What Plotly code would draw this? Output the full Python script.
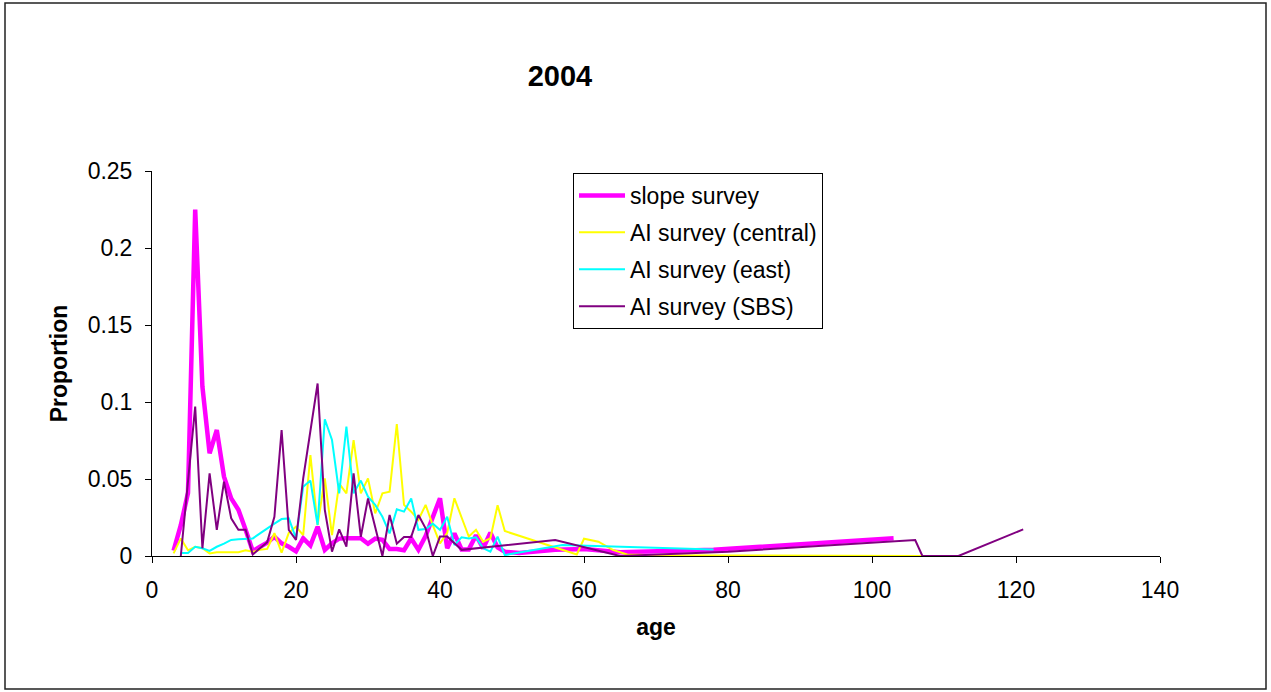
import plotly.graph_objects as go

# ---- data ----
slope_age = [3, 4, 5, 6, 7, 8, 9, 10, 11, 12, 13, 14, 15, 16, 17, 18, 19, 20,
             21, 22, 23, 24, 25, 26, 27, 28, 29, 30, 31, 32, 33, 34, 35, 36, 37,
             38, 39, 40, 41, 42, 43, 44, 45, 46, 47, 48, 49, 50, 51, 56, 60, 65,
             78, 103]
slope_val = [0.0035, 0.020, 0.041, 0.225, 0.110, 0.0667, 0.0818, 0.0515, 0.0374,
             0.030, 0.017, 0.0031, 0.006, 0.0087, 0.0125, 0.0082, 0.0060, 0.0030,
             0.0115, 0.0068, 0.019, 0.0040, 0.0083, 0.0113, 0.0115, 0.0115, 0.0115,
             0.0080, 0.0113, 0.0105, 0.0045, 0.0045, 0.0037, 0.0113, 0.0040, 0.0130,
             0.0250, 0.0375, 0.0050, 0.0147, 0.0043, 0.0043, 0.0135, 0.0050, 0.0151,
             0.0056, 0.0028, 0.0022, 0.0020, 0.0040, 0.0045, 0.0025, 0.0040, 0.0115]

central_age = [3, 4, 5, 6, 7, 8, 9, 10, 11, 12, 13, 14, 15, 16, 17, 18, 19, 20,
               21, 22, 23, 24, 25, 26, 27, 28, 29, 30, 31, 32, 33, 34, 35, 36, 37,
               38, 39, 40, 41, 42, 43, 44, 45, 46, 47, 48, 49, 59, 60, 62, 64, 66,
               70, 107]
central_val = [0.0017, 0.0114, 0.0037, 0.0060, 0.0050, 0.0017, 0.0024, 0.0024,
               0.0024, 0.0024, 0.0037, 0.0027, 0.0040, 0.0046, 0.0148, 0.0022,
               0.0150, 0.0190, 0.0136, 0.0656, 0.0200, 0.0504, 0.0136, 0.0470,
               0.0407, 0.0753, 0.0407, 0.0504, 0.0277, 0.0407, 0.0418, 0.0857,
               0.0332, 0.0288, 0.0234, 0.0332, 0.0200, 0.0082, 0.0150, 0.0375,
               0.0250, 0.0126, 0.0170, 0.0093, 0.0115, 0.0330, 0.0162, 0.0010,
               0.0112, 0.0093, 0.0040, 0.0010, 0.0005, 0.0]

east_age = [4, 5, 6, 7, 8, 9, 10, 11, 12, 13, 14, 15, 16, 17, 18, 19, 20, 21, 22,
            23, 24, 25, 26, 27, 28, 29, 30, 31, 32, 33, 34, 35, 36, 37, 38, 39, 40,
            41, 42, 43, 44, 45, 46, 47, 48, 49, 50, 57, 78]
east_val = [0.0020, 0.0020, 0.0060, 0.0050, 0.0033, 0.0060, 0.0080, 0.0104, 0.0108,
            0.0110, 0.0114, 0.0147, 0.0180, 0.0210, 0.0240, 0.0244, 0.0115, 0.0450,
            0.0490, 0.0201, 0.0888, 0.0753, 0.0407, 0.0840, 0.0407, 0.0490, 0.0385,
            0.0332, 0.0255, 0.0147, 0.0303, 0.0288, 0.0374, 0.0170, 0.0175, 0.0210,
            0.0169, 0.0255, 0.0071, 0.0121, 0.0114, 0.0121, 0.0050, 0.0028, 0.0126,
            0.0005, 0.0015, 0.0072, 0.0042]

sbs_age = [4, 5, 6, 7, 8, 9, 10, 11, 12, 13, 14, 15, 16, 17, 18, 19, 20, 21, 22,
           23, 24, 25, 26, 27, 28, 29, 30, 31, 32, 33, 34, 35, 36, 37, 38, 39, 40,
           41, 42, 43, 56, 65, 80, 106, 107, 112, 121]
sbs_val = [0.0, 0.050, 0.097, 0.005, 0.0537, 0.0169, 0.0483, 0.0245, 0.0170,
           0.0170, 0.0010, 0.0050, 0.0090, 0.0255, 0.0818, 0.0169, 0.0105, 0.0504,
           0.0810, 0.1120, 0.0300, 0.0028, 0.0173, 0.0061, 0.0537, 0.0124, 0.0374,
           0.0190, 0.0, 0.0266, 0.0080, 0.0124, 0.0124, 0.0266, 0.0180, 0.0, 0.0126,
           0.0126, 0.0080, 0.0040, 0.0104, 0.0, 0.0028, 0.0104, 0.0, 0.0, 0.0173]

x_ticks = [0, 20, 40, 60, 80, 100, 120, 140]
y_ticks = [0, 0.05, 0.1, 0.15, 0.2, 0.25]
y_labels = ["0", "0.05", "0.1", "0.15", "0.2", "0.25"]

series = [
    ("slope survey", slope_age, slope_val, "#FF00FF", 4.5),
    ("AI survey (central)", central_age, central_val, "#FFFF00", 2),
    ("AI survey (east)", east_age, east_val, "#00FFFF", 2),
    ("AI survey (SBS)", sbs_age, sbs_val, "#800080", 2),
]

fig = go.Figure()
for name, xs, ys, col, w in series:
    fig.add_trace(go.Scatter(x=xs, y=ys, mode="lines", name=name,
                             legendgroup=name,
                             line=dict(color=col, width=w)))

FONT = "Liberation Sans, Arial, sans-serif"
W, H = 1271, 692
L, R, T, B = 152, 1160, 171, 556
pw, ph = R - L, B - T

fig.update_layout(
    width=W, height=H,
    margin=dict(l=L, r=W - R, t=T, b=H - B),
    paper_bgcolor="white", plot_bgcolor="white",
    font=dict(family=FONT, size=23, color="black"),
    title=dict(text="<b>2004</b>", font=dict(size=29, family=FONT),
               xref="paper", x=(560 - L) / pw, xanchor="center",
               yref="container", y=1 - 76 / H, yanchor="middle"),
    showlegend=True,
    legend=dict(x=(573 - L) / pw, y=(B - 173) / ph, xanchor="left", yanchor="top",
                bordercolor="black", borderwidth=1, bgcolor="white",
                font=dict(size=23, family=FONT), traceorder="grouped",
                tracegroupgap=4, itemwidth=46),
    xaxis=dict(range=[0, 140], tickvals=x_ticks, showline=True, linecolor="black",
               linewidth=1, ticks="outside", ticklen=6, tickcolor="black",
               showgrid=False, zeroline=False, ticklabelstandoff=7,
               title=dict(text="<b>age</b>", font=dict(size=23), standoff=17)),
    yaxis=dict(range=[0, 0.25], tickvals=y_ticks, ticktext=y_labels, showline=True,
               linecolor="black", linewidth=1, ticks="outside", ticklen=6,
               tickcolor="black", showgrid=False, zeroline=False,
               ticklabelstandoff=8,
               title=dict(text="<b>Proportion</b>", font=dict(size=23), standoff=13)),
    shapes=[dict(type="rect", xref="paper", yref="paper",
                 x0=(5 - L) / pw, x1=(1266 - L) / pw,
                 y0=(B - 689) / ph, y1=(B - 3) / ph,
                 line=dict(color="#222222", width=1.5), fillcolor="rgba(0,0,0,0)",
                 layer="below")],
)

fig.write_html("out.html", config={"displayModeBar": False},
               post_script="document.body.style.margin='0';")
